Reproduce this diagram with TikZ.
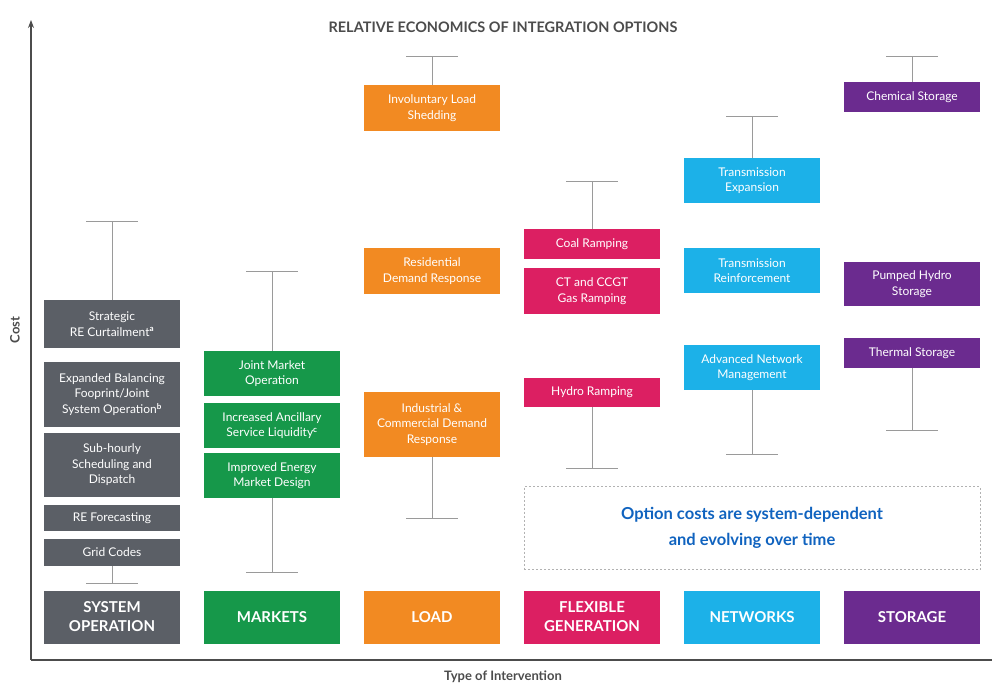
\documentclass[tikz,border=0pt]{standalone}
\usepackage{fontspec}
\setmainfont{Lato}
\usetikzlibrary{arrows.meta}
\definecolor{sogray}{HTML}{5B5F66}
\definecolor{mkgreen}{HTML}{16984A}
\definecolor{ldorange}{HTML}{F28A22}
\definecolor{fgpink}{HTML}{DC1F62}
\definecolor{nwblue}{HTML}{1CB1E8}
\definecolor{stpurple}{HTML}{6B2B8F}
\definecolor{wgray}{HTML}{9A9A9A}
\tikzset{
  opt/.style={fill=#1, text=white, minimum width=136pt, inner sep=2pt,
    align=center, font=\fontsize{12}{15.5}\selectfont},
  cat/.style={fill=#1, text=white, minimum width=136pt, minimum height=53pt,
    align=center, font=\fontsize{15}{19}\selectfont\bfseries},
  whisk/.style={draw=wgray, line width=1pt},
}
\newcommand{\optbox}[5]{% name, colour, x, top, bottom, text follows
  \node[opt=#2, minimum height=#5pt-#4pt] (#1) at (#3,{(#4+#5)/2})}
\begin{document}
\begin{tikzpicture}[x=1pt,y=-1pt]
  \useasboundingbox (0,0) rectangle (1003,699);
  % axes
  \coordinate (o) at (31,660);
  \coordinate (ytop) at (31,20);
  \coordinate (xend) at (992,660);
  \draw[black!70, line width=1.2pt, -{Stealth[length=8pt]}] (o) -- (ytop);
  \draw[black!70, line width=1.2pt] (o) -- (xend);
  \node[font=\fontsize{14.5}{17}\selectfont\bfseries, text=black!70] (title) at (503,27) {RELATIVE ECONOMICS OF INTEGRATION OPTIONS};
  \node[font=\fontsize{13}{15}\selectfont\bfseries, text=black!70, rotate=90] (ylab) at (15,330) {Cost};
  \node[font=\fontsize{13}{15}\selectfont\bfseries, text=black!70] (xlab) at (503,677) {Type of Intervention};
  % categories
  \node[cat=sogray] (so) at (112,617) {SYSTEM\\OPERATION};
  \node[cat=mkgreen] (mk) at (272,617) {MARKETS};
  \node[cat=ldorange] (ld) at (432,617) {LOAD};
  \node[cat=fgpink] (fg) at (592,617) {FLEXIBLE\\GENERATION};
  \node[cat=nwblue] (nw) at (752,617) {NETWORKS};
  \node[cat=stpurple] (st) at (912,617) {STORAGE};
  % system operation
  \optbox{so1}{sogray}{112}{300}{348}{Strategic\\RE Curtailment\textsuperscript{\bfseries a}};
  \optbox{so2}{sogray}{112}{362}{427}{Expanded Balancing\\Fooprint/Joint\\System Operation\textsuperscript{\bfseries b}};
  \optbox{so3}{sogray}{112}{433}{497}{Sub-hourly\\Scheduling and\\Dispatch};
  \optbox{so4}{sogray}{112}{505}{531}{RE Forecasting};
  \optbox{so5}{sogray}{112}{539}{566}{Grid Codes};
  \coordinate (so-hi) at (112,221);
  \coordinate (so-lo) at (112,583);
  % markets
  \optbox{mk1}{mkgreen}{272}{351}{396}{Joint Market\\Operation};
  \optbox{mk2}{mkgreen}{272}{403}{448}{Increased Ancillary\\Service Liquidity\textsuperscript{\bfseries c}};
  \optbox{mk3}{mkgreen}{272}{453}{498}{Improved Energy\\Market Design};
  \coordinate (mk-hi) at (272,271);
  \coordinate (mk-lo) at (272,572);
  % load
  \optbox{ld1}{ldorange}{432}{85}{131}{Involuntary Load\\Shedding};
  \optbox{ld2}{ldorange}{432}{248}{294}{Residential\\Demand Response};
  \optbox{ld3}{ldorange}{432}{392}{457}{Industrial \&\\Commercial Demand\\Response};
  \coordinate (ld-hi) at (432,56);
  \coordinate (ld-lo) at (432,518);
  % flexible generation
  \optbox{fg1}{fgpink}{592}{229}{259}{Coal Ramping};
  \optbox{fg2}{fgpink}{592}{268}{314}{CT and CCGT\\Gas Ramping};
  \optbox{fg3}{fgpink}{592}{378}{407}{Hydro Ramping};
  \coordinate (fg-hi) at (592,181);
  \coordinate (fg-lo) at (592,468);
  % networks
  \optbox{nw1}{nwblue}{752}{158}{203}{Transmission\\Expansion};
  \optbox{nw2}{nwblue}{752}{248}{293}{Transmission\\Reinforcement};
  \optbox{nw3}{nwblue}{752}{345}{390}{Advanced Network\\Management};
  \coordinate (nw-hi) at (752,116);
  \coordinate (nw-lo) at (752,454);
  % storage
  \optbox{st1}{stpurple}{912}{82}{112}{Chemical Storage};
  \optbox{st2}{stpurple}{912}{262}{306}{Pumped Hydro\\Storage};
  \optbox{st3}{stpurple}{912}{338}{368}{Thermal Storage};
  \coordinate (st-hi) at (912,56);
  \coordinate (st-lo) at (912,430);
  % whiskers
  \foreach \c/\a/\b in {so/so1/so5, mk/mk1/mk3, ld/ld1/ld3, fg/fg1/fg3, nw/nw1/nw3, st/st1/st3}{
    \draw[whisk] (\a.north) -- (\c-hi);
    \draw[whisk] (\b.south) -- (\c-lo);
    \draw[whisk] ([xshift=-26pt]\c-hi) -- ([xshift=26pt]\c-hi);
    \draw[whisk] ([xshift=-26pt]\c-lo) -- ([xshift=26pt]\c-lo);
  }
  % note
  \node[draw=gray!60, dash pattern=on 2pt off 2pt, minimum width=456pt, minimum height=83pt,
    align=center, text=nwblue!70!blue!80!black, font=\fontsize{16.5}{26}\selectfont\bfseries]
    (note) at (752,528) {Option costs are system-dependent\\and evolving over time};
\end{tikzpicture}
\end{document}
